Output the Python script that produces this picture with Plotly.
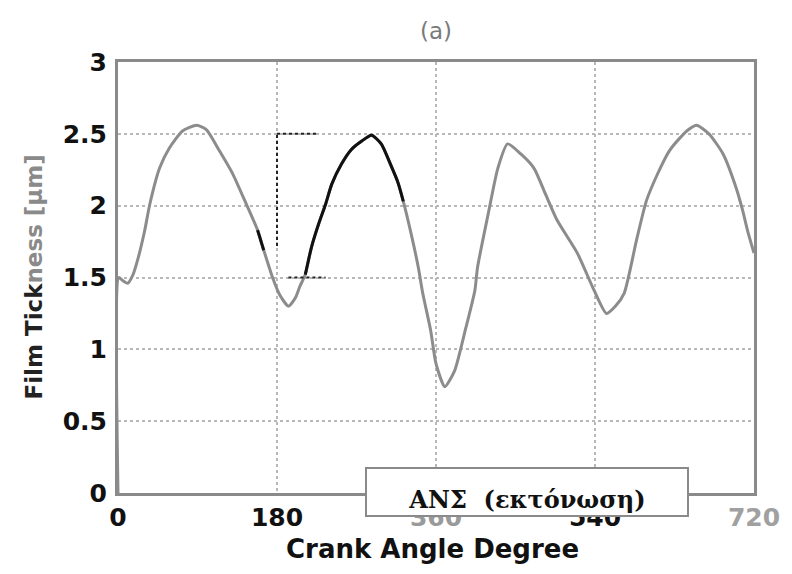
import plotly.graph_objects as go

# Film thickness over one engine cycle (crank angle in degrees, thickness in micrometres)
angle = [0, 1, 5, 11, 17, 23, 30, 36, 47, 58, 73, 89, 100, 115, 130, 146, 158, 165, 175, 183,
         193, 201, 206, 212, 219, 227, 235, 242, 253, 264, 276, 287, 298, 309, 317, 323, 332, 340, 345, 354,
         360, 370, 381, 393, 404, 407, 419, 430, 441, 456, 471, 484, 497, 520, 539, 553, 563, 573, 587, 598,
         610, 624, 636, 646, 655, 669, 685, 700, 707, 713, 720]
thickness = [0.00, 1.50, 1.48, 1.46, 1.52, 1.64, 1.82, 2.01, 2.26, 2.40, 2.52, 2.56, 2.53, 2.38, 2.22, 2.00, 1.83, 1.69, 1.50, 1.38,
             1.30, 1.36, 1.44, 1.52, 1.71, 1.87, 2.01, 2.15, 2.29, 2.39, 2.45, 2.49, 2.43, 2.28, 2.16, 2.03, 1.80, 1.57, 1.39, 1.13,
             0.90, 0.74, 0.85, 1.13, 1.41, 1.57, 1.94, 2.26, 2.43, 2.36, 2.26, 2.08, 1.90, 1.67, 1.41, 1.25, 1.30, 1.39, 1.76, 2.03,
             2.21, 2.38, 2.47, 2.53, 2.56, 2.50, 2.36, 2.12, 1.97, 1.82, 1.67]

# Crank-angle windows drawn in black on top of the grey curve
highlight_windows = [(155, 168), (212, 323)]

x_ticks = [0, 180, 360, 540, 720]
x_tick_labels = ["0", "180", '<span style="color:#9a9a9a">360</span>', "540",
                 '<span style="color:#a0a0a0">720</span>']
y_ticks = [0, 0.5, 1, 1.5, 2, 2.5, 3]
y_tick_labels = ["0", "0.5", "1", "1.5", "2", "2.5", "3"]

title_text = "(a)"
x_title = "Crank Angle Degree"
y_title = 'Film Tick<span style="color:#8a8a8a">ness [μm]</span>'
box_text = "ΑΝΣ  (εκτόνωση)"

highlight_y = [t if any(a <= x <= b for a, b in highlight_windows) else None
               for x, t in zip(angle, thickness)]

fig = go.Figure()
fig.add_trace(go.Scatter(x=angle, y=thickness, mode="lines",
                         line=dict(color="#8c8c8c", width=3, shape="spline", smoothing=0.6),
                         showlegend=False))
fig.add_trace(go.Scatter(x=angle, y=highlight_y, mode="lines", connectgaps=False,
                         line=dict(color="#111111", width=3, shape="spline", smoothing=0.6),
                         showlegend=False))

# dark dotted guide lines near the 180° gridline
guide = dict(color="#222222", width=2, dash="dot")
fig.add_shape(type="line", x0=180, x1=180, y0=1.72, y1=2.5, line=guide, layer="above")
fig.add_shape(type="line", x0=180, x1=225, y0=2.5, y1=2.5, line=guide, layer="above")
fig.add_shape(type="line", x0=193, x1=235, y0=1.5, y1=1.5, line=guide, layer="above")

tickfont = dict(family="DejaVu Sans", size=25, color="#111111", weight="bold")

fig.update_layout(
    width=792, height=574,
    margin=dict(l=118, r=34, t=62, b=81),
    paper_bgcolor="white", plot_bgcolor="white",
    xaxis=dict(range=[0, 720], tickvals=x_ticks, ticktext=x_tick_labels,
               tickfont=tickfont, ticks="", ticklabelstandoff=0,
               showline=True, linecolor="#8a8a8a", linewidth=3, mirror=True,
               showgrid=True, gridcolor="#b8b8b8", gridwidth=1.5, griddash="dot",
               zeroline=False),
    yaxis=dict(range=[0, 3], tickvals=y_ticks, ticktext=y_tick_labels,
               tickfont=tickfont, ticks="", ticklabelstandoff=3,
               showline=True, linecolor="#8a8a8a", linewidth=3, mirror=True,
               showgrid=True, gridcolor="#b8b8b8", gridwidth=1.5, griddash="dot",
               zeroline=False),
    annotations=[
        dict(text=title_text, xref="paper", yref="paper", x=0.5, y=1.0, yshift=31,
             xanchor="center", yanchor="middle", showarrow=False,
             font=dict(family="DejaVu Sans", size=23, color="#7a7a7a")),
        dict(text=x_title, xref="paper", yref="paper", x=0.495, y=0, yshift=-56,
             xanchor="center", yanchor="middle", showarrow=False,
             font=dict(family="DejaVu Sans", size=26, color="#111111", weight="bold")),
        dict(text=y_title, xref="paper", yref="paper", x=0, xshift=-85, y=0.5,
             xanchor="center", yanchor="middle", textangle=-90, showarrow=False,
             font=dict(family="DejaVu Sans", size=23, color="#222222", weight="bold")),
        dict(text=box_text, xref="paper", yref="paper", x=0.643, y=0, yshift=1,
             xanchor="center", yanchor="middle", showarrow=False,
             width=318, height=44, valign="bottom", align="center",
             bgcolor="white", bordercolor="#8a8a8a", borderwidth=2, borderpad=1,
             font=dict(family="DejaVu Serif", size=24, color="#111111", weight="bold")),
    ],
)

fig.write_html("out.html")
